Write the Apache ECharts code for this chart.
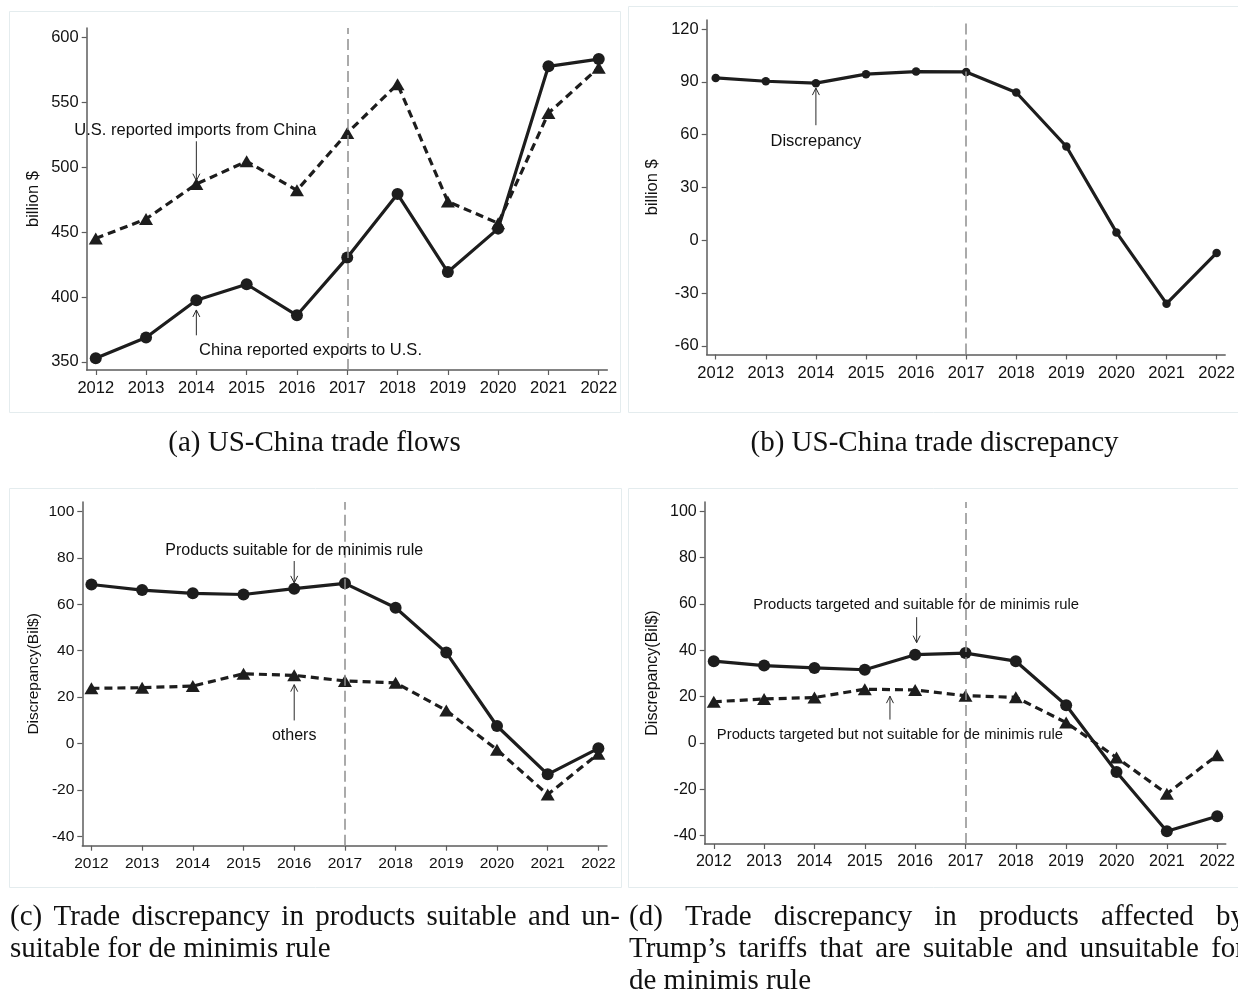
<!DOCTYPE html>
<html>
<head>
<meta charset="utf-8">
<script src="https://cdn.jsdelivr.net/npm/echarts@6/dist/echarts.min.js"></script>
<style>
  html, body { margin: 0; padding: 0; background: #fff; }
  #chart { width: 1238px; height: 992px; }
</style>
</head>
<body>
<div id="chart"></div>
<script>
// ---- data (billion US$) ----
const years = [2012, 2013, 2014, 2015, 2016, 2017, 2018, 2019, 2020, 2021, 2022];

// (a) trade flows
const chinaExports = [352.8, 368.8, 397.5, 409.8, 385.9, 430.3, 479.2, 419.2, 452.6, 577.5, 583.1];
const usImports    = [445.0, 460.0, 486.9, 504.4, 482.1, 526.2, 563.8, 473.4, 456.8, 541.5, 576.5];

// (b) total discrepancy
const discrepancy  = [92.3, 90.4, 89.3, 94.4, 95.9, 95.7, 84.0, 53.3, 4.5, -36.0, -7.2];

// (c) suitable vs. other products
const suitable     = [68.5, 66.1, 64.7, 64.2, 66.7, 69.0, 58.5, 39.2, 7.6, -13.2, -2.0];
const others       = [23.8, 24.1, 24.8, 30.1, 29.4, 27.0, 26.2, 14.3, -2.6, -21.9, -4.3];

// (d) products targeted by tariffs
const targetedSuitable    = [35.3, 33.4, 32.4, 31.6, 38.1, 38.8, 35.3, 16.3, -12.5, -38.1, -31.6];
const targetedNotSuitable = [17.8, 19.0, 19.6, 23.2, 22.9, 20.4, 19.7, 8.8, -6.3, -21.9, -5.3];

// tick labels
const yTicksA  = [350, 400, 450, 500, 550, 600];
const yTicksB  = [-60, -30, 0, 30, 60, 90, 120];
const yTicksCD = [-40, -20, 0, 20, 40, 60, 80, 100];
const policyYear = 2017;

// ---- styling ----
const SANS = '"Liberation Sans", Arial, sans-serif';
const SERIF = '"Liberation Serif", "Times New Roman", serif';
const INK = '#1d1d1d';
const AXIS = '#5c5c5c';

const grids = [
  { left: 86.7,  top: 28,  width: 520.6, height: 342 },
  { left: 706.7, top: 20,  width: 519.6, height: 334.5 },
  { left: 82.3,  top: 502, width: 524.7, height: 343.7 },
  { left: 704.7, top: 502, width: 521.3, height: 342 }
];
const yRanges = [[343.8, 607], [-64.9, 125.2], [-43.9, 104], [-43.6, 104]];
const yTicks = [yTicksA, yTicksB, yTicksCD, yTicksCD];
const yNames = ['billion $', 'billion $', 'Discrepancy(Bil$)', 'Discrepancy(Bil$)'];
const labelSize = [16.5, 16.5, 15.5, 16];
const nameGaps = [45, 46, 41, 44];

const plain = v => String(Math.round(v));

function xAxisFor(i) {
  return {
    type: 'value', gridIndex: i, min: 2011.82, max: 2022.17,
    axisLine: { show: true, onZero: false, lineStyle: { color: AXIS, width: 1.5 } },
    axisTick: { show: true, customValues: years, length: 5, lineStyle: { color: AXIS, width: 1.2 } },
    axisLabel: { customValues: years, formatter: plain, fontSize: labelSize[i], fontFamily: SANS,
                 color: '#111', margin: 10 },
    splitLine: { show: false }
  };
}
function yAxisFor(i) {
  return {
    type: 'value', gridIndex: i, min: yRanges[i][0], max: yRanges[i][1],
    name: yNames[i], nameLocation: 'middle', nameGap: nameGaps[i], nameRotate: 90,
    nameTextStyle: { fontSize: labelSize[i], fontFamily: SANS, color: '#111' },
    axisLine: { show: true, onZero: false, lineStyle: { color: AXIS, width: 1.5 } },
    axisTick: { show: true, customValues: yTicks[i], length: 5, lineStyle: { color: AXIS, width: 1.2 } },
    axisLabel: { customValues: yTicks[i], formatter: plain, fontSize: labelSize[i], fontFamily: SANS,
                 color: '#111', margin: 8 },
    splitLine: { show: false }
  };
}

function pairs(values) { return years.map((y, k) => [y, values[k]]); }

function solidSeries(i, values, size) {
  return {
    type: 'line', xAxisIndex: i, yAxisIndex: i, data: pairs(values), z: 3,
    symbol: 'circle', symbolSize: size, showAllSymbol: true,
    lineStyle: { color: INK, width: 3.2 }, itemStyle: { color: INK },
    silent: true, animation: false
  };
}
function dashedSeries(i, values) {
  return {
    type: 'line', xAxisIndex: i, yAxisIndex: i, data: pairs(values), z: 3,
    symbol: 'triangle', symbolSize: [14, 12], showAllSymbol: true,
    lineStyle: { color: INK, width: 3.2, type: [8, 5] }, itemStyle: { color: INK },
    silent: true, animation: false
  };
}
function policyLine(i) {
  return {
    type: 'line', xAxisIndex: i, yAxisIndex: i, data: [], z: 1, silent: true, animation: false,
    markLine: {
      silent: true, symbol: 'none', animation: false, label: { show: false },
      lineStyle: { color: '#8e8e8e', width: 1.5, type: [11, 5] },
      data: [{ xAxis: policyYear }]
    }
  };
}

const chart = echarts.init(document.getElementById('chart'), null, { renderer: 'canvas' });

chart.setOption({
  backgroundColor: '#ffffff',
  animation: false,
  grid: grids,
  xAxis: [0, 1, 2, 3].map(xAxisFor),
  yAxis: [0, 1, 2, 3].map(yAxisFor),
  series: [
    policyLine(0), policyLine(1), policyLine(2), policyLine(3),
    dashedSeries(0, usImports),
    solidSeries(0, chinaExports, 12),
    solidSeries(1, discrepancy, 8.5),
    dashedSeries(2, others),
    solidSeries(2, suitable, 12),
    dashedSeries(3, targetedNotSuitable),
    solidSeries(3, targetedSuitable, 12)
  ]
});

// ---- annotations (placed in data units of each panel) ----
const notes = [
  { p: 0, text: 'U.S. reported imports from China', at: [2013.98, 528.2], from: [2014, 519.8], to: [2014, 489.5], size: 16.5 },
  { p: 0, text: 'China reported exports to U.S.',   at: [2016.27, 358.7], from: [2014, 370.5], to: [2014, 390], size: 16.5 },
  { p: 1, text: 'Discrepancy',                      at: [2014.0, 56.0],   from: [2014, 65.4],  to: [2014, 86.5], size: 16.5 },
  { p: 2, text: 'Products suitable for de minimis rule', at: [2016.0, 82.9], from: [2016, 78.6], to: [2016, 69.2], size: 16 },
  { p: 2, text: 'others',                           at: [2016.0, 3.3],    from: [2016, 10.0],  to: [2016, 25.4], size: 16 },
  { p: 3, text: 'Products targeted and suitable for de minimis rule', at: [2016.02, 59.6], from: [2016.03, 54.3], to: [2016.03, 43.3], size: 14.8 },
  { p: 3, text: 'Products targeted but not suitable for de minimis rule', at: [2015.5, 3.6], from: [2015.5, 10.1], to: [2015.5, 20.2], size: 14.8 }
];

const graphics = [];

// light panel frames
[[9.5, 11.5, 611, 401], [628.5, 6.5, 620, 406], [9.5, 488.5, 612, 399], [628.5, 488.5, 620, 399]].forEach(r => {
  graphics.push({ type: 'rect', silent: true, z: 0,
    shape: { x: r[0], y: r[1], width: r[2], height: r[3] },
    style: { fill: 'none', stroke: '#e4ecee', lineWidth: 1 } });
});

notes.forEach(n => {
  const finder = { xAxisIndex: n.p, yAxisIndex: n.p };
  const t = chart.convertToPixel(finder, n.at);
  const a = chart.convertToPixel(finder, n.from);
  const b = chart.convertToPixel(finder, n.to);
  graphics.push({ type: 'text', silent: true, z: 10,
    style: { text: n.text, x: t[0], y: t[1], font: n.size + 'px ' + SANS, fill: '#111',
             align: 'center', verticalAlign: 'middle' } });
  graphics.push({ type: 'line', silent: true, z: 10,
    shape: { x1: a[0], y1: a[1], x2: b[0], y2: b[1] },
    style: { stroke: '#2a2a2a', lineWidth: 1 } });
  const dir = b[1] > a[1] ? -1 : 1;
  graphics.push({ type: 'polyline', silent: true, z: 10,
    shape: { points: [[b[0] - 3.5, b[1] + dir * 7], [b[0], b[1]], [b[0] + 3.5, b[1] + dir * 7]] },
    style: { stroke: '#2a2a2a', lineWidth: 1, fill: 'none' } });
});

// ---- captions ----
const CAP_FONT = '29px ' + SERIF;
const measureCtx = document.createElement('canvas').getContext('2d');
measureCtx.font = CAP_FONT;

function captionLine(str, x, y, justifyTo) {
  if (!justifyTo) {
    graphics.push({ type: 'text', silent: true,
      style: { text: str, x: x, y: y, font: CAP_FONT, fill: '#111', align: 'left', verticalAlign: 'middle' } });
    return;
  }
  const words = str.split(' ');
  const widths = words.map(w => measureCtx.measureText(w).width);
  const total = widths.reduce((s, w) => s + w, 0);
  const gap = (justifyTo - x - total) / (words.length - 1);
  let cx = x;
  words.forEach((w, k) => {
    graphics.push({ type: 'text', silent: true,
      style: { text: w, x: cx, y: y, font: CAP_FONT, fill: '#111', align: 'left', verticalAlign: 'middle' } });
    cx += widths[k] + gap;
  });
}
function captionCentered(str, cx, y) {
  graphics.push({ type: 'text', silent: true,
    style: { text: str, x: cx, y: y, font: CAP_FONT, fill: '#111', align: 'center', verticalAlign: 'middle' } });
}

captionCentered('(a) US-China trade flows', 314.5, 443);
captionCentered('(b) US-China trade discrepancy', 934.5, 443);
captionLine('(c) Trade discrepancy in products suitable and un-', 10, 917, 620);
captionLine('suitable for de minimis rule', 10, 949);
captionLine('(d) Trade discrepancy in products affected by', 629, 917, 1245);
captionLine('Trump\u2019s tariffs that are suitable and unsuitable for', 629, 949, 1245);
captionLine('de minimis rule', 629, 981);

chart.setOption({ graphic: graphics });
</script>
</body>
</html>
